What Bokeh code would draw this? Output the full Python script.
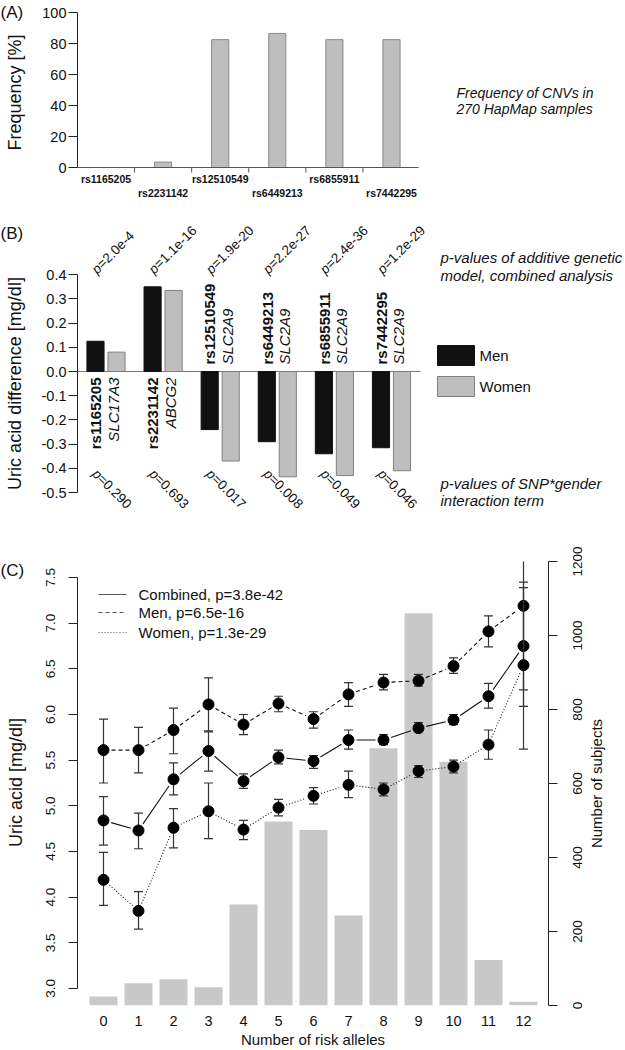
import math
from bokeh.plotting import figure
from bokeh.models import Range1d, LinearAxis, FixedTicker
from bokeh.layouts import column, row
from bokeh.embed import file_html
from bokeh.resources import INLINE
from bokeh.core.properties import value

FONT = "Liberation Sans"

# ---------------- data ----------------
snps = ["rs1165205", "rs2231142", "rs12510549", "rs6449213", "rs6855911", "rs7442295"]
genes = ["SLC17A3", "ABCG2", "SLC2A9", "SLC2A9", "SLC2A9", "SLC2A9"]
cnv_freq = [0, 3.5, 82.5, 86.5, 82.5, 82.5]
freq_ticks = [0, 20, 40, 60, 80, 100]

men_diff = [0.125, 0.35, -0.24, -0.29, -0.34, -0.315]
women_diff = [0.08, 0.335, -0.37, -0.435, -0.43, -0.41]
p_additive = ["p=2.0e-4", "p=1.1e-16", "p=1.9e-20", "p=2.2e-27", "p=2.4e-36", "p=1.2e-29"]
p_interaction = ["p=0.290", "p=0.693", "p=0.017", "p=0.008", "p=0.049", "p=0.046"]
diff_ticks = [-0.5, -0.4, -0.3, -0.2, -0.1, 0.0, 0.1, 0.2, 0.3, 0.4]
diff_tick_labels = ["-0.5", "-0.4", "-0.3", "-0.2", "-0.1", "0.0", "0.1", "0.2", "0.3", "0.4"]

risk_alleles = list(range(13))
n_subjects = [24, 60, 71, 49, 273, 497, 474, 243, 695, 1060, 659, 123, 10]
comb_mean = [4.84, 4.73, 5.29, 5.60, 5.27, 5.53, 5.49, 5.72, 5.72, 5.85, 5.94, 6.20, 6.75]
comb_lo = [4.57, 4.53, 5.12, 5.38, 5.19, 5.46, 5.41, 5.62, 5.67, 5.81, 5.89, 6.07, 6.09]
comb_hi = [5.10, 4.92, 5.47, 5.81, 5.35, 5.61, 5.55, 5.83, 5.78, 5.91, 6.00, 6.34, 7.39]
men_mean = [5.61, 5.61, 5.83, 6.11, 5.89, 6.12, 5.95, 6.22, 6.35, 6.37, 6.53, 6.91, 7.19]
men_lo = [5.25, 5.36, 5.57, 5.82, 5.78, 6.03, 5.85, 6.09, 6.27, 6.31, 6.45, 6.74, 6.27]
men_hi = [5.95, 5.86, 6.07, 6.40, 6.00, 6.20, 6.03, 6.35, 6.44, 6.44, 6.62, 7.08, 8.09]
women_mean = [4.19, 3.85, 4.76, 4.94, 4.74, 4.98, 5.11, 5.23, 5.18, 5.38, 5.43, 5.67, 6.54]
women_lo = [3.91, 3.65, 4.54, 4.64, 4.63, 4.89, 5.02, 5.09, 5.11, 5.31, 5.36, 5.51, 5.62]
women_hi = [4.49, 4.06, 4.97, 5.25, 4.84, 5.07, 5.20, 5.38, 5.25, 5.44, 5.50, 5.83, 7.45]
uric_ticks = [3.0, 3.5, 4.0, 4.5, 5.0, 5.5, 6.0, 6.5, 7.0, 7.5]
uric_tick_labels = ["3.0", "3.5", "4.0", "4.5", "5.0", "5.5", "6.0", "6.5", "7.0", "7.5"]
count_ticks = [0, 200, 400, 600, 800, 1000, 1200]
count_tick_labels = ["0", "200", "400", "600", "800", "1000", "1200"]
legend_c = ["Combined, p=3.8e-42", "Men, p=6.5e-16", "Women, p=1.3e-29"]

panel_tags = ["(A)", "(B)", "(C)"]
y_titles = ["Frequency [%]", "Uric acid difference [mg/dl]", "Uric acid [mg/dl]"]
right_title = "Number of subjects"

# ---------------- geometry helpers (reference pixel -> data) ----------------
A_PX = 57.1            # px per SNP slot (panels A, B)
B_PX = 242.0           # px per mg/dl (panel B)
C_XPX, C_YPX = 35.0, 91.33
N_PX = 444.0 / 1200.0  # px per subject (panel C, right scale)


def a_x(px): return 1 + (px - 105.5) / A_PX
def a_y(py): return (167 - py) / 1.55
def b_y(py): return (371 - py) / B_PX
def c_x(px): return (px - 103) / C_XPX
def c_y(py): return 7.5 - (py - 577) / C_YPX
def n_y(py): return (1005 - py) / N_PX


INK = "#222222"
TXT = "#111111"


def style_axis(ax, size):
    ax.axis_line_color = INK
    ax.major_tick_line_color = INK
    ax.minor_tick_line_color = None
    ax.major_tick_in = 0
    ax.major_tick_out = 9
    ax.major_label_text_font = FONT
    ax.major_label_text_font_size = size
    ax.major_label_text_color = TXT
    ax.axis_label_text_font = FONT
    ax.axis_label_text_font_style = "normal"
    ax.axis_label_text_color = TXT


def base_fig(w, h, xr, yr, **kw):
    p = figure(width=w, height=h, x_range=xr, y_range=yr, output_backend="svg",
               toolbar_location=None, **kw)
    p.grid.visible = False
    p.outline_line_color = None
    p.background_fill_color = "white"
    p.border_fill_color = "white"
    try:
        p.frame_align = False
    except Exception:
        pass
    return p


def strip_fig(x0, x1, h, yr):
    return base_fig(x1 - x0, h, Range1d(x0, x1), yr, x_axis_location=None, y_axis_location=None,
                    min_border=0, min_border_left=0, min_border_right=0,
                    min_border_top=0, min_border_bottom=0)


def tag_and_title(s, tag, title, y_tag, y_title, x_title, size="18px"):
    s.text(x=[0], y=[y_tag], text=[tag], text_font=value(FONT), text_font_size="17px",
           text_align="left", text_baseline="middle", text_color=TXT)
    s.text(x=[x_title], y=[y_title], text=[title], angle=math.pi / 2, text_font=value(FONT),
           text_font_size=size, text_align="center", text_baseline="middle", text_color=TXT)


STRIP = 27
W = 625 - STRIP
LB = 77 - STRIP
xs = [i + 1 for i in range(len(snps))]

# ================= Panel A =================
A_YR = (a_y(208), a_y(0))
sA = strip_fig(0, STRIP, 208, Range1d(*A_YR))
tag_and_title(sA, panel_tags[0], y_titles[0], a_y(12), a_y(92), 14.5)

pA = base_fig(W, 208, Range1d(a_x(77), a_x(625)), Range1d(*A_YR),
              x_axis_location=None, y_axis_location="left",
              min_border_left=LB, min_border_right=0, min_border_top=0, min_border_bottom=0)
ya = pA.yaxis[0]
style_axis(ya, "14.5px")
ya.ticker = FixedTicker(ticks=freq_ticks)
ya.bounds = (0, 100)
ya.major_label_standoff = 2

pA.vbar(x=xs, top=cnv_freq, bottom=0, width=0.3, fill_color="#bebebe", line_color="#8a8a8a")
pA.segment(x0=[a_x(77)], x1=[a_x(418)], y0=[0], y1=[0], line_color="#555555", line_width=1)
bounds_ticks = [x + 0.5 for x in xs[:-1]]
pA.segment(x0=bounds_ticks, x1=bounds_ticks, y0=[0] * len(bounds_ticks),
           y1=[a_y(172)] * len(bounds_ticks), line_color="#555555")
row_y = [a_y(178) if i % 2 == 0 else a_y(192) for i in range(len(snps))]
pA.text(x=xs, y=row_y, text=snps, text_font=value(FONT), text_font_size="10.5px",
        text_font_style="bold", text_align="center", text_baseline="middle", text_color=TXT)
pA.text(x=[a_x(456)] * 2, y=[a_y(92), a_y(108)],
        text=["Frequency of CNVs in", "270 HapMap samples"], text_font=value(FONT),
        text_font_size="14px", text_font_style="italic", text_baseline="middle", text_color=TXT)

# ================= Panel B =================
B_YR = (b_y(535), b_y(208))
sB = strip_fig(0, STRIP, 327, Range1d(*B_YR))
tag_and_title(sB, panel_tags[1], y_titles[1], b_y(233), b_y(383), 14.5)

pB = base_fig(W, 327, Range1d(a_x(77), a_x(625)), Range1d(*B_YR),
              x_axis_location=None, y_axis_location="left",
              min_border_left=LB, min_border_right=0, min_border_top=0, min_border_bottom=0)
yb = pB.yaxis[0]
style_axis(yb, "14.5px")
yb.ticker = FixedTicker(ticks=diff_ticks)
yb.major_label_overrides = {t: s for t, s in zip(diff_ticks, diff_tick_labels)}
yb.bounds = (-0.5, 0.4)
yb.major_label_standoff = 2

pB.segment(x0=[a_x(77)], x1=[a_x(420)], y0=[0], y1=[0], line_color="#777777")
pB.vbar(x=[x - 0.184 for x in xs], top=men_diff, bottom=0, width=0.3,
        fill_color="#111111", line_color="#111111")
pB.vbar(x=[x + 0.184 for x in xs], top=women_diff, bottom=0, width=0.3,
        fill_color="#bebebe", line_color="#808080")

pos = [i for i, m in enumerate(men_diff) if m > 0]
neg = [i for i, m in enumerate(men_diff) if m <= 0]
for idx, yy, al in ((pos, b_y(377), "right"), (neg, b_y(364), "left")):
    pB.text(x=[xs[i] - 0.18 for i in idx], y=[yy] * len(idx), text=[snps[i] for i in idx],
            angle=math.pi / 2, text_font=value(FONT), text_font_size="15px", text_font_style="bold",
            text_align=al, text_baseline="middle", text_color=TXT)
    pB.text(x=[xs[i] + 0.13 for i in idx], y=[yy] * len(idx), text=[genes[i] for i in idx],
            angle=math.pi / 2, text_font=value(FONT), text_font_size="15px", text_font_style="italic",
            text_align=al, text_baseline="middle", text_color=TXT)


def rotated_pvalues(labels, x_off, y_px, ang, size_px=13.5):
    """Italic 'p' followed by the upright rest of the label, along a slanted baseline."""
    xs0 = [x + x_off for x in xs]
    ys0 = [b_y(y_px)] * len(xs)
    pB.text(x=xs0, y=ys0, text=[s[:1] for s in labels], angle=ang, text_font=value(FONT),
            text_font_size=f"{size_px}px", text_font_style="italic", text_align="left",
            text_baseline="middle", text_color=TXT)
    adv = 0.556 * size_px
    dx = adv * math.cos(ang) / A_PX
    dy = adv * math.sin(ang) / B_PX
    pB.text(x=[x + dx for x in xs0], y=[y + dy for y in ys0], text=[s[1:] for s in labels],
            angle=ang, text_font=value(FONT), text_font_size=f"{size_px}px", text_align="left",
            text_baseline="middle", text_color=TXT)


rotated_pvalues(p_additive, -0.21, 271, math.pi / 4)
rotated_pvalues(p_interaction, -0.2, 471, -math.pi / 4)

pB.quad(left=[a_x(437)], right=[a_x(474)], top=[b_y(345)], bottom=[b_y(365)],
        fill_color="#111111", line_color="#111111")
pB.quad(left=[a_x(437)], right=[a_x(474)], top=[b_y(376)], bottom=[b_y(396)],
        fill_color="#bebebe", line_color="#808080")
pB.text(x=[a_x(479)] * 2, y=[b_y(355), b_y(386)], text=["Men", "Women"], text_font=value(FONT),
        text_font_size="15px", text_baseline="middle", text_color=TXT)
pB.text(x=[a_x(440)] * 4, y=[b_y(257), b_y(275), b_y(483), b_y(500)],
        text=["p-values of additive genetic", "model, combined analysis",
              "p-values of SNP*gender", "interaction term"],
        text_font=value(FONT), text_font_size="15px", text_font_style="italic",
        text_baseline="middle", text_color=TXT)

# ================= Panel C =================
C_TOP, C_BOT = 535, 1050
CL = 60            # left strip width (tag, title, tick labels)
CR0 = 560          # right strip starts here (page x)
C_YR = (c_y(C_BOT), c_y(C_TOP))
sC = strip_fig(0, CL, C_BOT - C_TOP, Range1d(*C_YR))
tag_and_title(sC, panel_tags[2], y_titles[2], c_y(570), c_y(782), 15.5)
sC.text(x=[50] * len(uric_ticks), y=uric_ticks, text=uric_tick_labels, angle=math.pi / 2,
        text_font=value(FONT), text_font_size="13.5px", text_align="center",
        text_baseline="middle", text_color=TXT)

pC = base_fig(CR0 - CL, C_BOT - C_TOP, Range1d(c_x(77), c_x(548)), Range1d(c_y(1005), c_y(561)),
              x_axis_location="below", y_axis_location="left",
              min_border_left=77 - CL, min_border_right=CR0 - 548, min_border_top=561 - C_TOP,
              min_border_bottom=C_BOT - 1005)
pC.extra_y_ranges = {"n": Range1d(0, 1200)}

yc = pC.yaxis[0]
style_axis(yc, "1px")
yc.ticker = FixedTicker(ticks=uric_ticks)
yc.major_label_overrides = {t: "" for t in uric_ticks}
yc.bounds = (3.0, 7.5)
yc.major_label_standoff = 0

yr = LinearAxis(y_range_name="n")
style_axis(yr, "1px")
yr.ticker = FixedTicker(ticks=count_ticks)
yr.major_label_overrides = {t: "" for t in count_ticks}
yr.bounds = (0, 1200)
yr.major_label_standoff = 0
pC.add_layout(yr, "right")

xc = pC.xaxis[0]
style_axis(xc, "14.5px")
xc.ticker = FixedTicker(ticks=risk_alleles)
xc.axis_line_color = None
xc.major_tick_line_color = None
xc.major_tick_out = 0
xc.major_label_standoff = 10
xc.axis_label = "Number of risk alleles"
xc.axis_label_text_font_size = "15px"
xc.axis_label_standoff = 2

pC.vbar(x=risk_alleles, top=n_subjects, bottom=0, width=0.8, y_range_name="n",
        fill_color="#c8c8c8", line_color=None)


def gapped(xv, yv, gap_px=8.0):
    """Segments between consecutive points, stopped short of the points (R type='b')."""
    x0s, y0s, x1s, y1s = [], [], [], []
    for k in range(len(xv) - 1):
        dxp = (xv[k + 1] - xv[k]) * C_XPX
        dyp = (yv[k + 1] - yv[k]) * C_YPX
        L = math.hypot(dxp, dyp)
        if L <= 2 * gap_px:
            continue
        t = gap_px / L
        x0s.append(xv[k] + t * (xv[k + 1] - xv[k]))
        y0s.append(yv[k] + t * (yv[k + 1] - yv[k]))
        x1s.append(xv[k + 1] - t * (xv[k + 1] - xv[k]))
        y1s.append(yv[k + 1] - t * (yv[k + 1] - yv[k]))
    return x0s, y0s, x1s, y1s


series = [
    (comb_mean, comb_lo, comb_hi, "solid"),
    (men_mean, men_lo, men_hi, "4 3"),
    (women_mean, women_lo, women_hi, "1 2"),
]
for mean, lo, hi, dash in series:
    gx0, gy0, gx1, gy1 = gapped(risk_alleles, mean)
    pC.segment(x0=gx0, y0=gy0, x1=gx1, y1=gy1, line_color=TXT, line_width=1.1, line_dash=dash)
for mean, lo, hi, dash in series:
    pC.segment(x0=risk_alleles, x1=risk_alleles, y0=lo, y1=hi, line_color="#333333", line_width=1.2)
    pC.scatter(x=risk_alleles, y=lo, marker="dash", size=9, line_color="#333333", line_width=1.2)
    pC.scatter(x=risk_alleles, y=hi, marker="dash", size=9, line_color="#333333", line_width=1.2)
    pC.scatter(x=risk_alleles, y=mean, marker="circle", size=11, fill_color="black", line_color="black")

leg_y = [c_y(594), c_y(612), c_y(632)]
for yy, dash in zip(leg_y, ["solid", "4 3", "1 2"]):
    pC.line(x=[c_x(98), c_x(126)], y=[yy, yy], line_color="#555555", line_width=1, line_dash=dash)
pC.text(x=[c_x(138)] * 3, y=leg_y, text=legend_c, text_font=value(FONT), text_font_size="15px",
        text_baseline="middle", text_color=TXT)

# right strip: count tick labels and title, on the same subject scale as the bars
rC = strip_fig(CR0, 625, C_BOT - C_TOP, Range1d(n_y(C_BOT), n_y(C_TOP)))
rC.text(x=[577] * len(count_ticks), y=count_ticks, text=count_tick_labels, angle=math.pi / 2,
        text_font=value(FONT), text_font_size="13.5px", text_align="center",
        text_baseline="middle", text_color=TXT)
rC.text(x=[596], y=[n_y(783)], text=[right_title], angle=math.pi / 2, text_font=value(FONT),
        text_font_size="15px", text_align="center", text_baseline="middle", text_color=TXT)

layout = column(row(sA, pA, spacing=0), row(sB, pB, spacing=0), row(sC, pC, rC, spacing=0),
                spacing=0)
open("out.html", "w").write(file_html(layout, INLINE))
